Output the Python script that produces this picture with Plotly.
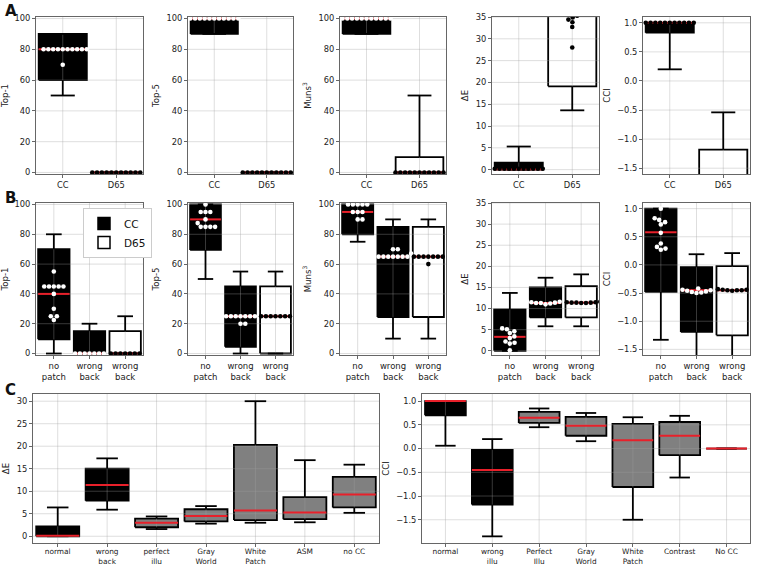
import math
import plotly.graph_objects as go

W, H = 758, 566

# ------------------------------------------------------------------ data
A_CATS = ["CC", "D65"]
B_CATS = ["no<br>patch", "wrong<br>back", "wrong<br>back"]
C_DE_CATS = ["normal", "wrong<br>back", "perfect<br>illu", "Gray<br>World",
             "White<br>Patch", "ASM", "no CC"]
C_CCI_CATS = ["normal", "wrong<br>illu", "Perfect<br>Illu", "Gray<br>World",
              "White<br>Patch", "Contrast", "No CC"]
LEGEND_NAMES = ["CC", "D65"]

TICKS_PCT = [0, 20, 40, 60, 80, 100]
TICKS_DE = [0, 5, 10, 15, 20, 25, 30, 35]
TICKS_DE_C = [0, 5, 10, 15, 20, 25, 30]
TICKS_CCI = [-1.5, -1.0, -0.5, 0.0, 0.5, 1.0]

# box statistics per group: [lower whisker, q1, median, q3, upper whisker]
A_TOP1_STATS = [[50, 60, 80, 90, 90], [0, 0, 0, 0, 0]]
A_TOP5_STATS = [[90, 90, 100, 100, 100], [0, 0, 0, 0, 0]]
A_MUNS_STATS = [[90, 90, 100, 100, 100], [0, 0, 0, 10, 50]]
A_DE_STATS = [[0, 0, 0.1, 1.6, 5.3], [13.6, 19.1, 40, 50, 60]]
A_CCI_STATS = [[0.2, 0.83, 1.0, 1.0, 1.0], [-2.5, -2.0, -1.7, -1.18, -0.54]]

B_TOP1_STATS = [[0, 9.5, 40, 70, 80], [0, 0, 0, 15, 20], [0, 0, 0, 15, 25]]
B_TOP5_STATS = [[50, 69.5, 90, 100, 100], [0, 4.5, 25, 45, 55], [0, 0, 25, 45, 55]]
B_MUNS_STATS = [[75, 80, 95, 100, 100], [10, 24.5, 65, 85, 90], [10, 24.5, 65, 85, 90]]
B_DE_STATS = [[0, 0, 3.3, 9.8, 13.7], [5.8, 7.9, 11.3, 15.0, 17.3], [5.8, 7.9, 11.4, 15.3, 18.1]]
B_CCI_STATS = [[-1.33, -0.48, 0.58, 1.0, 1.0], [-1.7, -1.19, -0.45, -0.04, 0.19],
               [-1.7, -1.25, -0.45, -0.02, 0.21]]

C_DE_STATS = [[0, 0, 0.1, 2.2, 6.4], [5.9, 7.9, 11.4, 15.0, 17.3], [1.6, 2.0, 3.0, 3.9, 4.4],
              [2.8, 3.3, 4.5, 6.0, 6.7], [3.0, 3.6, 5.7, 20.3, 30.0], [3.1, 3.8, 5.3, 8.7, 16.9],
              [5.2, 6.4, 9.3, 13.2, 15.9]]
C_CCI_STATS = [[0.06, 0.70, 1.0, 1.0, 1.0], [-1.85, -1.18, -0.45, -0.03, 0.20],
               [0.45, 0.54, 0.65, 0.775, 0.845], [0.155, 0.27, 0.48, 0.67, 0.75],
               [-1.5, -0.81, 0.176, 0.52, 0.66], [-0.61, -0.14, 0.27, 0.56, 0.69],
               [0, 0, 0, 0, 0]]

# individual (swarm) points per group
A_TOP1_PTS = [[80, 80, 80, 80, 80, 80, 80, 80, 80, 80, 70],
              [0, 0, 0, 0, 0, 0, 0, 0, 0, 0, 0]]
A_TOP5_PTS = [[100, 100, 100, 100, 100, 100, 100, 100, 100, 100, 100],
              [0, 0, 0, 0, 0, 0, 0, 0, 0, 0, 0]]
A_MUNS_PTS = [[100, 100, 100, 100, 100, 100, 100, 100, 100, 100, 100],
              [0, 0, 0, 0, 0, 0, 0, 0, 0, 0, 0]]
A_DE_PTS = [[0.2, 0.2, 0.2, 0.2, 0.2, 0.2, 0.2, 0.2, 0.2, 0.2, 0.2],
            [28.0, 32.7, 33.8, 34.4, 34.9, 35.3, 37, 40, 45, 50, 55]]
A_CCI_PTS = [[1.0, 1.0, 1.0, 1.0, 1.0, 1.0, 1.0, 1.0, 1.0, 1.0, 1.0], []]

B_TOP1_PTS = [[55, 45, 45, 45, 45, 45, 40, 30, 25, 25, 22.5],
              [0, 0, 0, 0, 0, 0, 0],
              [0, 0, 0, 0, 0, 0, 0]]
B_TOP5_PTS = [[100, 95, 95, 95, 90, 87.5, 85, 85, 85, 85],
              [25, 25, 25, 25, 25, 25, 25, 20, 20],
              [25, 25, 25, 25, 25, 25, 25]]
B_MUNS_PTS = [[100, 100, 100, 100, 100, 95, 95, 95, 90, 90],
              [70, 70, 67, 65, 65, 65, 65, 65, 65, 65],
              [65, 65, 65, 65, 65, 65, 65, 60]]
B_DE_PTS = [[5.3, 5.1, 4.6, 4.2, 3.4, 3.0, 2.2, 1.9, 1.7, 0.1],
            [11.0, 11.2, 11.3, 11.3, 11.4, 11.5, 11.8, 11.6],
            [11.3, 11.4, 11.4, 11.5, 11.5, 11.4, 11.6, 11.3]]
B_CCI_PTS = [[1.0, 0.83, 0.80, 0.76, 0.72, 0.57, 0.38, 0.32, 0.29, 0.27],
             [-0.47, -0.48, -0.50, -0.49, -0.46, -0.45, -0.44, -0.42],
             [-0.44, -0.45, -0.45, -0.46, -0.45, -0.44, -0.43]]

# ------------------------------------------------------------------ style
BLACK, WHITE, GREY = "#000000", "#ffffff", "#808080"
RED = "#e8202a"
FRAME = "#666666"
GRID = "rgba(160,160,160,0.35)"
FONT = "DejaVu Sans"
LW = 1.8

fig = go.Figure()
layout = {}


def px_dom_x(a, b):
    return [a / W, b / W]


def px_dom_y(top, bottom):
    return [1 - bottom / H, 1 - top / H]


def swarm_x(values, center, ppx, ppy, d=4.8):
    order = sorted(range(len(values)), key=lambda i: values[i])
    placed = []
    xs = [None] * len(values)
    for i in order:
        y = values[i] * ppy
        cands = [0.0]
        for (xj, yj) in placed:
            dy = abs(y - yj)
            if dy < d:
                dx = math.sqrt(d * d - dy * dy)
                cands += [xj + dx, xj - dx]
        ok = [c for c in cands
              if all((c - xj) ** 2 + (y - yj) ** 2 >= d * d - 1e-6 for xj, yj in placed)]
        best = min(ok, key=lambda c: (abs(c), -c))
        placed.append((best, y))
        xs[i] = center + best / ppx
    return xs


def add_panel(k, xpx, ypx, cats, stats, faces, yrange, yticks, ytitle, yfmt,
              width, pts=None, ptcolors=None, xfont=8.3, xstand=0):
    xa = "x" if k == 1 else f"x{k}"
    ya = "y" if k == 1 else f"y{k}"
    n = len(cats)
    xrange = [-0.5, n - 0.5]
    ppx = (xpx[1] - xpx[0]) / (xrange[1] - xrange[0])
    ppy = (ypx[1] - ypx[0]) / (yrange[1] - yrange[0])

    # 1. box faces with outline
    for i, (s, fc) in enumerate(zip(stats, faces)):
        lo, q1, med, q3, hi = s
        fig.add_trace(go.Scatter(
            x=[i - width / 2, i + width / 2, i + width / 2, i - width / 2, i - width / 2],
            y=[q1, q1, q3, q3, q1], mode="lines", fill="toself", fillcolor=fc,
            line=dict(color=BLACK, width=LW), xaxis=xa, yaxis=ya,
            showlegend=False, hoverinfo="skip"))

    # 2. grid lines (drawn above box faces like the original)
    gx, gy = [], []
    for t in yticks:
        gx += [xrange[0], xrange[1], None]
        gy += [t, t, None]
    for i in range(n):
        gx += [i, i, None]
        gy += [yrange[0], yrange[1], None]
    fig.add_trace(go.Scatter(x=gx, y=gy, mode="lines", line=dict(color=GRID, width=1),
                             xaxis=xa, yaxis=ya, showlegend=False, hoverinfo="skip"))

    # 3. whiskers and caps
    wx, wy = [], []
    for i, s in enumerate(stats):
        lo, q1, med, q3, hi = s
        wx += [i, i, None, i, i, None,
               i - width / 4, i + width / 4, None, i - width / 4, i + width / 4, None]
        wy += [q1, lo, None, q3, hi, None, lo, lo, None, hi, hi, None]
    fig.add_trace(go.Scatter(x=wx, y=wy, mode="lines", line=dict(color=BLACK, width=LW),
                             xaxis=xa, yaxis=ya, showlegend=False, hoverinfo="skip"))

    # 4. medians
    mx, my = [], []
    for i, s in enumerate(stats):
        mx += [i - width / 2, i + width / 2, None]
        my += [s[2], s[2], None]
    fig.add_trace(go.Scatter(x=mx, y=my, mode="lines", line=dict(color=RED, width=2),
                             xaxis=xa, yaxis=ya, showlegend=False, hoverinfo="skip"))

    # 5. swarm points
    if pts:
        for i, (vals, col) in enumerate(zip(pts, ptcolors)):
            if not vals:
                continue
            xs = swarm_x(vals, i, ppx, ppy)
            fig.add_trace(go.Scatter(x=xs, y=vals, mode="markers",
                                     marker=dict(color=col, size=4.6, line=dict(width=0)),
                                     xaxis=xa, yaxis=ya, showlegend=False, hoverinfo="skip"))

    axk = "xaxis" if k == 1 else f"xaxis{k}"
    ayk = "yaxis" if k == 1 else f"yaxis{k}"
    layout[axk] = dict(
        domain=px_dom_x(*xpx), range=xrange, anchor=ya, tickmode="array",
        tickvals=list(range(n)), ticktext=cats, showgrid=False, zeroline=False,
        showline=True, mirror=True, linecolor=FRAME, linewidth=1, ticks="outside",
        ticklen=3, tickcolor=FRAME, layer="above traces", automargin=False,
        ticklabelstandoff=xstand,
        tickfont=dict(family=FONT, size=xfont, color="#222"), fixedrange=True)
    layout[ayk] = dict(
        domain=px_dom_y(*ypx), range=yrange, anchor=xa, tickmode="array",
        tickvals=yticks, tickformat=yfmt, showgrid=False, zeroline=False,
        showline=True, mirror=True, linecolor=FRAME, linewidth=1, ticks="outside",
        ticklen=3, tickcolor=FRAME, layer="above traces", automargin=False,
        tickfont=dict(family=FONT, size=8.3, color="#222"),
        title=dict(text=ytitle, font=dict(family=FONT, size=8.6, color="#222"), standoff=5),
        fixedrange=True)
    return xa, ya


COLS = [(36, 143), (188, 293), (340, 446), (492, 599), (643, 750)]
ROW_A = (17, 174)
ROW_B = (203, 355)
ROW_C = (394, 543)

A_FACES = [BLACK, WHITE]
A_PTC = [WHITE, BLACK]
A_PTC_EDGE = [BLACK, BLACK]
B_FACES = [BLACK, BLACK, WHITE]
B_PTC = [WHITE, WHITE, BLACK]
C_FACES = [BLACK, BLACK, GREY, GREY, GREY, GREY, GREY]

add_panel(1, COLS[0], ROW_A, A_CATS, A_TOP1_STATS, A_FACES, [-1, 101], TICKS_PCT, "Top-1", "d", 0.9, A_TOP1_PTS, A_PTC)
add_panel(2, COLS[1], ROW_A, A_CATS, A_TOP5_STATS, A_FACES, [-1, 101], TICKS_PCT, "Top-5", "d", 0.9, A_TOP5_PTS, A_PTC)
add_panel(3, COLS[2], ROW_A, A_CATS, A_MUNS_STATS, A_FACES, [-1, 101], TICKS_PCT, "Muns<sup>3</sup>", "d", 0.9, A_MUNS_PTS, A_PTC)
add_panel(4, COLS[3], ROW_A, A_CATS, A_DE_STATS, A_FACES, [-1, 35], TICKS_DE, "ΔE", "d", 0.9, A_DE_PTS, A_PTC_EDGE)
add_panel(5, COLS[4], ROW_A, A_CATS, A_CCI_STATS, A_FACES, [-1.6, 1.1], TICKS_CCI, "CCI", ".1f", 0.9, A_CCI_PTS, A_PTC_EDGE)

bx, by = add_panel(6, COLS[0], ROW_B, B_CATS, B_TOP1_STATS, B_FACES, [-1, 101], TICKS_PCT, "Top-1", "d", 0.88, B_TOP1_PTS, B_PTC, 8.5)
add_panel(7, COLS[1], ROW_B, B_CATS, B_TOP5_STATS, B_FACES, [-1, 101], TICKS_PCT, "Top-5", "d", 0.88, B_TOP5_PTS, B_PTC, 8.5)
add_panel(8, COLS[2], ROW_B, B_CATS, B_MUNS_STATS, B_FACES, [-1, 101], TICKS_PCT, "Muns<sup>3</sup>", "d", 0.88, B_MUNS_PTS, B_PTC, 8.5)
add_panel(9, COLS[3], ROW_B, B_CATS, B_DE_STATS, B_FACES, [-1, 35], TICKS_DE, "ΔE", "d", 0.88, B_DE_PTS, B_PTC, 8.5)
add_panel(10, COLS[4], ROW_B, B_CATS, B_CCI_STATS, B_FACES, [-1.6, 1.1], TICKS_CCI, "CCI", ".1f", 0.88, B_CCI_PTS, B_PTC, 8.5)

add_panel(11, (33, 379), ROW_C, C_DE_CATS, C_DE_STATS, C_FACES, [-1.5, 31.6], TICKS_DE_C, "ΔE", "d", 0.87,
          xfont=7.4, xstand=-2)
add_panel(12, (422, 750), ROW_C, C_CCI_CATS, C_CCI_STATS, C_FACES, [-1.99, 1.15], TICKS_CCI, "CCI", ".1f", 0.87,
          xfont=7.4, xstand=-2)

# legend entries (CC = black patch, D65 = white patch)
for name, fc in zip(LEGEND_NAMES, [BLACK, WHITE]):
    fig.add_trace(go.Bar(x=[None], y=[None], name=name, xaxis=bx, yaxis=by,
                         marker=dict(color=fc, line=dict(color=BLACK, width=1.5)),
                         showlegend=True, hoverinfo="skip"))

annotations = []
for letter, ytop in [("A", 0), ("B", 187), ("C", 379)]:
    annotations.append(dict(text=f"<b>{letter}</b>", x=3 / W, y=1 - ytop / H, xref="paper", yref="paper",
                            xanchor="left", yanchor="top", showarrow=False,
                            font=dict(family=FONT, size=15, color="#111")))

fig.update_layout(
    width=W, height=H, autosize=False,
    margin=dict(l=0, r=0, t=0, b=0),
    paper_bgcolor="white", plot_bgcolor="white",
    showlegend=True,
    legend=dict(x=83 / W, y=1 - 208 / H, xanchor="left", yanchor="top",
                bgcolor="white", bordercolor="#cccccc", borderwidth=1,
                font=dict(family=FONT, size=10.5, color="#111"), itemwidth=30,
                tracegroupgap=2),
    annotations=annotations,
    **layout,
)

# remove the browser's default page margin so the 758x566 figure fills the window
fig.write_html("out.html", config={"displayModeBar": False},
               post_script="document.body.style.margin='0';document.body.style.padding='0';")
